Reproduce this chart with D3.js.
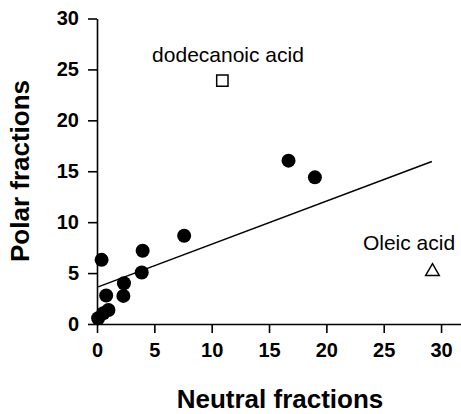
<!DOCTYPE html>
<html>
<head>
<meta charset="utf-8">
<script src="https://cdn.jsdelivr.net/npm/d3@7"></script>
<style>
  body { margin: 0; background: #fff; }
  text { font-family: "Liberation Sans", Arial, sans-serif; fill: #000; }
</style>
</head>
<body>
<svg id="chart" width="461" height="414"></svg>
<script>
// measured points (neutral, polar)
const neutral = [0.1, 0.55, 1.0, 0.4, 0.8, 2.35, 2.3, 3.98, 3.9, 7.6, 16.7, 19.0];
const polar = [0.56, 1.05, 1.38, 6.3, 2.8, 4.0, 2.76, 7.2, 5.06, 8.66, 16.04, 14.4];
const dodecanoic = [10.93, 23.9];
const oleic = [29.25, 5.15];
const fitLine = [[0.1, 3.65], [29.2, 15.96]];
const xTicks = [0, 5, 10, 15, 20, 25, 30];
const yTicks = [0, 5, 10, 15, 20, 25, 30];

const svg = d3.select("#chart");

const x = d3.scaleLinear().domain([0, 31.8]).range([97, 461.7]);
const y = d3.scaleLinear().domain([0, 30]).range([324, 18.5]);

const xAxis = svg.append("g")
    .attr("transform", "translate(0,324)")
    .call(d3.axisBottom(x).tickValues(xTicks).tickSize(9).tickPadding(10).tickSizeOuter(0));

const yAxis = svg.append("g")
    .attr("transform", "translate(97,0)")
    .call(d3.axisLeft(y).tickValues(yTicks).tickSize(9).tickPadding(9).tickSizeOuter(0));

[xAxis, yAxis].forEach(g => {
    g.select(".domain").attr("stroke", "#000").attr("stroke-width", 1.6);
    g.selectAll(".tick line").attr("stroke", "#000").attr("stroke-width", 1.6);
    g.selectAll(".tick text")
        .style("font-family", "'Liberation Sans', Arial, sans-serif")
        .style("font-size", "20px")
        .style("font-weight", "bold")
        .attr("fill", "#000");
});

// regression line
svg.append("line")
    .attr("x1", x(fitLine[0][0]))
    .attr("y1", y(fitLine[0][1]))
    .attr("x2", x(fitLine[1][0]))
    .attr("y2", y(fitLine[1][1]))
    .attr("stroke", "#000")
    .attr("stroke-width", 1.5);

svg.selectAll(".pt")
    .data(neutral)
    .enter()
    .append("circle")
    .attr("class", "pt")
    .attr("cx", d => x(d))
    .attr("cy", (d, i) => y(polar[i]))
    .attr("r", 7)
    .attr("fill", "#000");

// dodecanoic acid square
svg.append("path")
    .attr("d", d3.symbol(d3.symbolSquare, 128)())
    .attr("transform", `translate(${x(dodecanoic[0])},${y(dodecanoic[1])})`)
    .attr("fill", "#fff")
    .attr("stroke", "#000")
    .attr("stroke-width", 1.5);

// oleic acid triangle
svg.append("path")
    .attr("d", d3.symbol(d3.symbolTriangle, 80)())
    .attr("transform", `translate(${x(oleic[0])},${y(oleic[1])})`)
    .attr("fill", "#fff")
    .attr("stroke", "#000")
    .attr("stroke-width", 1.5);

svg.append("text")
    .attr("x", 228)
    .attr("y", 62)
    .attr("text-anchor", "middle")
    .style("font-size", "21px")
    .text("dodecanoic acid");

svg.append("text")
    .attr("x", 409)
    .attr("y", 250)
    .attr("text-anchor", "middle")
    .style("font-size", "21px")
    .text("Oleic acid");

svg.append("text")
    .attr("x", 280)
    .attr("y", 408)
    .attr("text-anchor", "middle")
    .style("font-size", "26px")
    .style("font-weight", "bold")
    .text("Neutral fractions");

svg.append("text")
    .attr("transform", "translate(29,171) rotate(-90)")
    .attr("text-anchor", "middle")
    .style("font-size", "26px")
    .style("font-weight", "bold")
    .text("Polar fractions");
</script>
</body>
</html>
